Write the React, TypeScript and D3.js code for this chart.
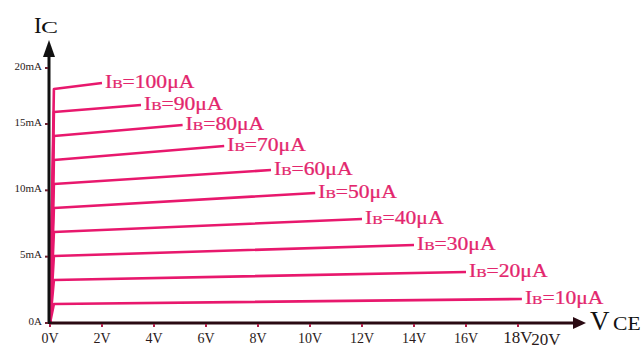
import React from "react";
import * as d3 from "d3";

// Transistor output characteristics: Ic vs Vce for several base currents
const baseCurrents = [10, 20, 30, 40, 50, 60, 70, 80, 90, 100]; // µA
const kneeCurrent = [1.43, 3.24, 5.05, 6.86, 8.67, 10.48, 12.29, 14.1, 16.07, 18.13]; // mA
const endVoltage = [18.15, 16.0, 14.0, 12.0, 10.2, 8.5, 6.7, 5.1, 3.5, 2.0]; // V
const endCurrent = [1.81, 3.84, 5.88, 7.84, 9.8, 11.53, 13.34, 14.92, 16.7, 18.66]; // mA
const kneeVoltage = 0.15;

const xTicks = [0, 2, 4, 6, 8, 10, 12, 14, 16, 18];
const xTickLabels = ["0V", "2V", "4V", "6V", "8V", "10V", "12V", "14V", "16V", "18V"];
const xEndLabel = "20V";
const yTicks = [0, 5, 10, 15, 20];
const yTickLabels = ["0A", "5mA", "10mA", "15mA", "20mA"];

const W = 642;
const H = 349;
const PINK = "#e8186d";
const LABEL_PINK = "#e3266d";
const SERIF = "'Liberation Serif', 'Times New Roman', serif";

export default function App() {
  const x = d3.scaleLinear().domain([0, 18]).range([50, 518]);
  const y = d3.scaleLinear().domain([0, 15, 20]).range([323, 124, 68]);

  const line = d3
    .line<[number, number]>()
    .x((d) => x(d[0]))
    .y((d) => y(d[1]));

  const curves = baseCurrents.map((ib, i) => ({
    ib,
    pts: [
      [0, 0],
      [kneeVoltage, kneeCurrent[i]],
      [endVoltage[i], endCurrent[i]],
    ] as [number, number][],
    endV: endVoltage[i],
    endI: endCurrent[i],
  }));

  const x0 = x(0);
  const y0 = y(0);
  const axisEndX = 586;
  const axisTopY = 40;

  return (
    <svg
      width={W}
      height={H}
      style={{ position: "absolute", left: 0, top: 0, background: "#fff" }}
      fontFamily={SERIF}
    >
      <rect width={W} height={H} fill="#fff" />

      {/* characteristic curves */}
      {curves.map((c) => (
        <path
          key={c.ib}
          d={line(c.pts) || ""}
          fill="none"
          stroke={PINK}
          strokeWidth={2.6}
          strokeLinejoin="round"
        />
      ))}

      {/* curve labels */}
      {curves.map((c) => (
        <g
          key={"l" + c.ib}
          transform={`translate(${x(c.endV) + 3},${y(c.endI) + 5}) scale(1.2,1)`}
        >
          <text fill={LABEL_PINK} fontSize={18} stroke={LABEL_PINK} strokeWidth={0.25}>
            <tspan>I</tspan>
            <tspan fontSize={13}>B</tspan>
            <tspan>{`=${c.ib}μA`}</tspan>
          </text>
        </g>
      ))}

      {/* x axis */}
      <line x1={x0 - 1} y1={y0} x2={axisEndX - 10} y2={y0} stroke="#2a0a12" strokeWidth={3} />
      <path
        d={`M${axisEndX},${y0} L${axisEndX - 13},${y0 - 6} L${axisEndX - 13},${y0 + 6} Z`}
        fill="#2a0a12"
      />
      {/* y axis */}
      <line x1={x0 - 1} y1={y0 + 1} x2={x0 - 1} y2={axisTopY + 10} stroke="#111" strokeWidth={3} />
      <path
        d={`M${x0 - 1},${axisTopY} L${x0 - 7},${axisTopY + 17} L${x0 + 5},${axisTopY + 17} Z`}
        fill="#111"
      />

      {/* x ticks */}
      {xTicks.map((t, i) => {
        const big = i === xTicks.length - 1;
        return (
          <g key={"xt" + t}>
            <line x1={x(t)} x2={x(t)} y1={y0 + 1} y2={y0 + 4} stroke="#b0204a" strokeWidth={2} />
            <text
              x={x(t)}
              y={343}
              textAnchor="middle"
              fontSize={big ? 17 : 14}
              fill="#2a1a1a"
            >
              {xTickLabels[i]}
            </text>
          </g>
        );
      })}
      <text x={x(20) - 24} y={345} textAnchor="middle" fontSize={17} fill="#2a1a1a">
        {xEndLabel}
      </text>

      {/* y ticks */}
      {yTicks.map((t, i) => (
        <g key={"yt" + t}>
          <line x1={x0 - 5} x2={x0 - 2} y1={y(t)} y2={y(t)} stroke="#6a2030" strokeWidth={2} />
          <text
            x={42}
            y={y(t) - 1}
            textAnchor="end"
            dominantBaseline="middle"
            fontSize={11}
            fill="#2a1a1a"
          >
            {yTickLabels[i]}
          </text>
        </g>
      ))}

      {/* axis titles */}
      <text x={34} y={33} fontSize={23} fill="#111">I</text>
      <g transform="translate(41,33) scale(1.5,1)">
        <text fontSize={17} fill="#111">C</text>
      </g>
      <text x={590} y={330} fontSize={27} fill="#111">V</text>
      <g transform="translate(613,330) scale(1.2,1)">
        <text fontSize={18} fill="#111">CE</text>
      </g>
    </svg>
  );
}
